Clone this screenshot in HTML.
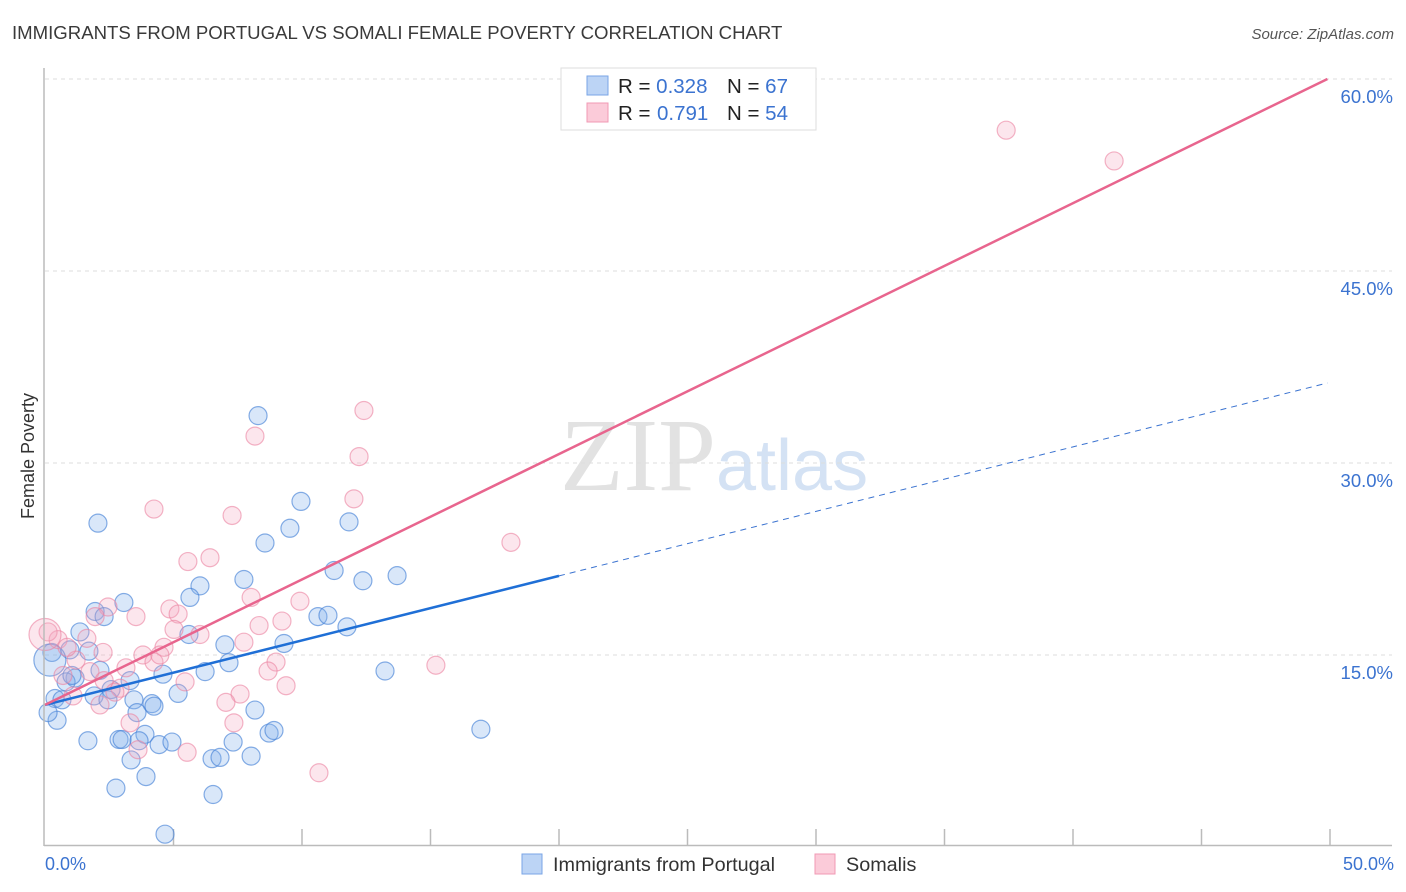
<!DOCTYPE html>
<html><head><meta charset="utf-8"><style>
body{margin:0;background:#fff;font-family:"Liberation Sans",sans-serif}
svg{display:block}
</style></head><body>
<svg id="chart" width="1406" height="892">
<text x="12" y="39" font-size="18.6" fill="#3a3a3a">IMMIGRANTS FROM PORTUGAL VS SOMALI FEMALE POVERTY CORRELATION CHART</text>
<text x="1394" y="39" font-size="15" fill="#555" font-style="italic" text-anchor="end">Source: ZipAtlas.com</text>
<text x="34" y="456" font-size="18" fill="#333" text-anchor="middle" transform="rotate(-90 34 456)">Female Poverty</text>
<text x="716" y="490" font-size="104" fill="#e2e2e2" text-anchor="end" font-family="Liberation Serif,serif">ZIP</text>
<text x="716" y="490" font-size="72" fill="#d4e2f4">atlas</text>
<g id="grid"></g><g id="pts"></g><g id="lines"></g>
<line x1="44" y1="68" x2="44" y2="846" stroke="#bbb" stroke-width="1.5"/>
<line x1="44" y1="845.5" x2="1392" y2="845.5" stroke="#bbb" stroke-width="1.5"/>
<text x="45" y="870" font-size="18" fill="#3b73d0">0.0%</text>
<text x="1394" y="870" font-size="18" fill="#3b73d0" text-anchor="end">50.0%</text>
<g>
<rect x="561" y="68" width="255" height="62" fill="#fff" stroke="#ddd"/>
<rect x="587" y="76" width="21" height="19" fill="#bcd4f5" stroke="#7aa5e6"/>
<rect x="587" y="103" width="21" height="19" fill="#fbcbd9" stroke="#f09ab4"/>
<text x="618" y="93" font-size="20.5" fill="#222">R = <tspan fill="#3b73d0">0.328</tspan><tspan x="727">N = </tspan><tspan fill="#3b73d0">67</tspan></text>
<text x="618" y="120" font-size="20.5" fill="#222">R = <tspan fill="#3b73d0" x="657">0.791</tspan><tspan x="727">N = </tspan><tspan fill="#3b73d0">54</tspan></text>
</g>
<g>
<rect x="522" y="854" width="20" height="20" fill="#bcd4f5" stroke="#7aa5e6"/>
<text x="553" y="871" font-size="19.8" fill="#333">Immigrants from Portugal</text>
<rect x="815" y="854" width="20" height="20" fill="#fbcbd9" stroke="#f09ab4"/>
<text x="846" y="871" font-size="19.8" fill="#333">Somalis</text>
</g>
</svg>
<script>
const blueX=[2.06,8.29,9.96,9.53,11.83,8.56,11.25,7.74,12.37,13.7,6.03,5.64,3.07,1.95,2.30,10.62,11.01,11.75,1.36,5.60,7.00,9.30,1.71,0.97,0.27,7.16,6.23,4.59,13.23,1.17,0.82,2.57,5.18,1.91,3.46,4.16,4.24,0.39,0.66,2.45,3.58,8.17,0.47,3.89,8.72,8.91,1.67,2.88,3.00,3.66,4.44,4.94,7.32,6.50,6.81,8.02,3.35,16.96,3.93,2.76,6.54,4.67,0.19,0.12,1.05,2.14,3.31];
const blueY=[25.3,33.7,27.0,24.9,25.4,23.75,21.6,20.9,20.8,21.2,20.4,19.5,19.1,18.4,18.0,18.0,18.1,17.2,16.8,16.6,15.8,15.9,15.3,15.4,15.2,14.4,13.7,13.5,13.75,13.2,12.9,12.3,12.0,11.8,11.5,11.2,11.0,11.6,11.5,11.5,10.5,10.7,9.9,8.8,8.9,9.1,8.3,8.4,8.4,8.3,8.0,8.2,8.2,6.9,7.0,7.1,6.8,9.2,5.5,4.6,4.1,1.0,14.6,10.5,13.4,13.8,13.0];
const pinkX=[37.4,41.6,12.41,8.17,12.22,4.24,12.02,7.28,18.13,6.42,5.56,8.02,9.92,2.45,4.86,5.18,3.54,1.95,9.22,8.33,5.02,6.03,1.63,0.51,0.12,4.63,3.81,2.26,1.21,4.24,8.99,7.74,8.68,3.15,1.75,0.70,9.38,2.30,2.92,7.59,7.04,1.09,2.72,2.14,7.35,3.31,5.53,3.62,10.66,15.21,0,0.86,4.47,5.45];
const pinkY=[56.0,53.6,34.1,32.1,30.5,26.4,27.2,25.9,23.8,22.6,22.3,19.5,19.2,18.75,18.6,18.2,18.0,18.0,17.65,17.3,17.0,16.6,16.3,16.2,16.8,15.6,15.0,15.2,14.6,14.45,14.45,16.0,13.75,14.0,13.7,13.4,12.6,13.0,12.4,11.95,11.3,11.8,12.1,11.1,9.7,9.7,7.4,7.6,5.8,14.2,16.6,15.6,15.0,12.9];
const yTicks=[15,30,45,60];
const blueFit=[11.1,0.504];const pinkFit=[11.1,0.98];
const xs=v=>45+v*25.7, ys=v=>847-v*12.8;
const NS='http://www.w3.org/2000/svg';
function mk(t,a,p){const e=document.createElementNS(NS,t);for(const k in a)e.setAttribute(k,a[k]);p.appendChild(e);return e;}
const grid=document.getElementById('grid');
yTicks.forEach(t=>{const l=mk('line',{x1:45,x2:1392,y1:ys(t),y2:ys(t),stroke:'#ddd','stroke-dasharray':'4,4'},grid);


const tx=mk('text',{x:1393,y:ys(t)+24,'font-size':18.5,fill:'#3b73d0','text-anchor':'end'},grid);tx.textContent=t.toFixed(1)+'%';

});
for(let i=1;i<=10;i++){const l=mk('line',{x1:xs(i*5),x2:xs(i*5),y1:829,y2:846,stroke:'#bbb','stroke-width':1.5},grid);

}
const pts=document.getElementById('pts');
blueX.forEach((x,i)=>{const big=(i==62);const c=mk('circle',{cx:xs(x),cy:ys(blueY[i]),r:big?16:9,fill:'rgba(130,175,235,0.3)',stroke:'rgba(70,130,215,0.65)','stroke-width':1.2},pts);

});
pinkX.forEach((x,i)=>{const big=(i==50);const c=mk('circle',{cx:xs(x),cy:ys(pinkY[i]),r:big?16:9,fill:'rgba(245,165,190,0.28)',stroke:'rgba(235,130,160,0.6)','stroke-width':1.2},pts);

});
const lines=document.getElementById('lines');
let l=mk('line',{x1:xs(0),y1:ys(blueFit[0]),x2:xs(20),y2:ys(blueFit[0]+blueFit[1]*20),stroke:'#1f6fd6','stroke-width':2.5},lines);


l=mk('line',{x1:xs(20),y1:ys(blueFit[0]+blueFit[1]*20),x2:xs(49.9),y2:ys(blueFit[0]+blueFit[1]*49.9),stroke:'#3b73d0','stroke-width':1,'stroke-dasharray':'6,5'},lines);


l=mk('line',{x1:xs(0),y1:ys(pinkFit[0]),x2:xs(49.9),y2:ys(pinkFit[0]+pinkFit[1]*49.9),stroke:'#e8658e','stroke-width':2.5},lines);


</script>
</body></html>
